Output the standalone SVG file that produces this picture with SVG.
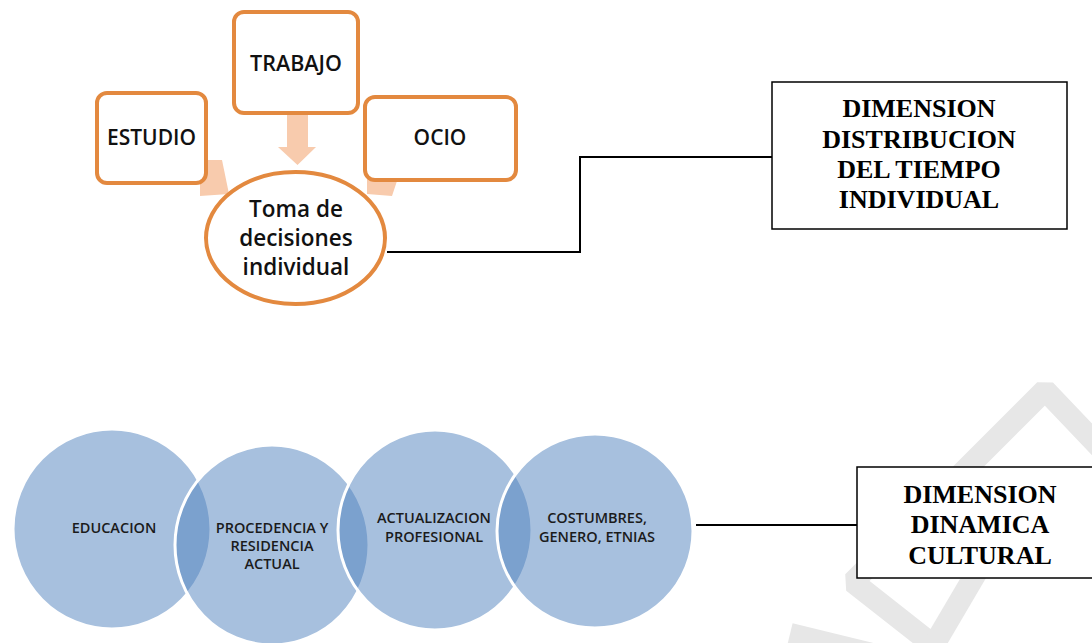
<svg xmlns="http://www.w3.org/2000/svg" width="1092" height="643" viewBox="0 0 1092 643">
<style>
.box{fill:#fff;stroke:#E3893F;stroke-width:4}
.blk{fill:#F8CBAD}
.lbl{font-family:"Open Sans","Liberation Sans",sans-serif;font-weight:600;fill:#111;text-anchor:middle}
.dim{font-family:"Liberation Serif","Times New Roman",serif;font-weight:bold;font-size:26px;fill:#000;text-anchor:middle}
.dbox{fill:#fff;stroke:#000;stroke-width:1.5}
.circ{fill:#4F81BD;fill-opacity:0.5;stroke:#fff;stroke-width:3}
.clbl{font-family:"Open Sans","Liberation Sans",sans-serif;font-weight:600;font-size:14.5px;fill:#1b1b1b;text-anchor:middle}
.wm{fill:none;stroke:#E7E7E7;stroke-width:22;stroke-linecap:butt;stroke-linejoin:bevel}
</style>
<rect width="1092" height="643" fill="#fff"/>
<g id="watermark">
<polyline class="wm" points="1104,452 1045,390 853,582 942,652"/>
<line class="wm" x1="978" y1="570" x2="928" y2="655"/>
<line class="wm" x1="790" y1="634" x2="905" y2="662"/>
</g>
<g id="arrows">
<polygon class="blk" points="287,113 308,113 308,147 316,147 297.5,165 278,147 287,147"/>
<polygon class="blk" points="200,160 222,160 229,194 200,196"/>
<polygon class="blk" points="367,175 399,175 392,196 367,194"/>
</g>
<g id="connectors" fill="none" stroke="#000" stroke-width="2">
<polyline points="387,252 580,252 580,157 772,157"/>
<line x1="696" y1="525" x2="857" y2="525"/>
</g>
<g id="trabajo">
<rect class="box" x="234" y="12" width="124" height="101" rx="10"/>
<text class="lbl" x="296" y="71" font-size="21.5">TRABAJO</text>
</g>
<g id="estudio">
<rect class="box" x="97" y="93" width="109" height="90" rx="10"/>
<text class="lbl" x="151.5" y="145" font-size="21">ESTUDIO</text>
</g>
<g id="ocio">
<rect class="box" x="365" y="97" width="151" height="83" rx="10"/>
<text class="lbl" x="440" y="145" font-size="21">OCIO</text>
</g>
<g id="toma">
<ellipse class="box" cx="295.5" cy="238" rx="89.5" ry="66"/>
<text class="lbl" x="296" y="217" font-size="22.5">Toma de</text>
<text class="lbl" x="296" y="246" font-size="22.5">decisiones</text>
<text class="lbl" x="296" y="275" font-size="22.5">individual</text>
</g>
<g id="dim-tiempo">
<rect class="dbox" x="772" y="82" width="295" height="147"/>
<text class="dim" x="919" y="117">DIMENSION</text>
<text class="dim" x="919" y="147.5">DISTRIBUCION</text>
<text class="dim" x="919" y="178">DEL TIEMPO</text>
<text class="dim" x="919" y="208">INDIVIDUAL</text>
</g>
<g id="educacion">
<ellipse class="circ" cx="112" cy="529" rx="99" ry="100"/>
</g>
<g id="procedencia">
<ellipse class="circ" cx="272" cy="545" rx="97" ry="100"/>
</g>
<g id="actualizacion">
<ellipse class="circ" cx="435" cy="530" rx="97" ry="100"/>
</g>
<g id="costumbres">
<ellipse class="circ" cx="595" cy="531" rx="98" ry="97"/>
</g>
<g id="circle-labels">
<text class="clbl" x="114" y="533">EDUCACION</text>
<text class="clbl" x="272" y="533">PROCEDENCIA Y</text>
<text class="clbl" x="272" y="551">RESIDENCIA</text>
<text class="clbl" x="272" y="569">ACTUAL</text>
<text class="clbl" x="434" y="523">ACTUALIZACION</text>
<text class="clbl" x="434" y="542">PROFESIONAL</text>
<text class="clbl" x="597" y="523">COSTUMBRES,</text>
<text class="clbl" x="597" y="542">GENERO, ETNIAS</text>
</g>
<g id="dim-cultural">
<rect class="dbox" x="857" y="467" width="250" height="111"/>
<text class="dim" x="980" y="503">DIMENSION</text>
<text class="dim" x="980" y="533">DINAMICA</text>
<text class="dim" x="980" y="564">CULTURAL</text>
</g>
</svg>
